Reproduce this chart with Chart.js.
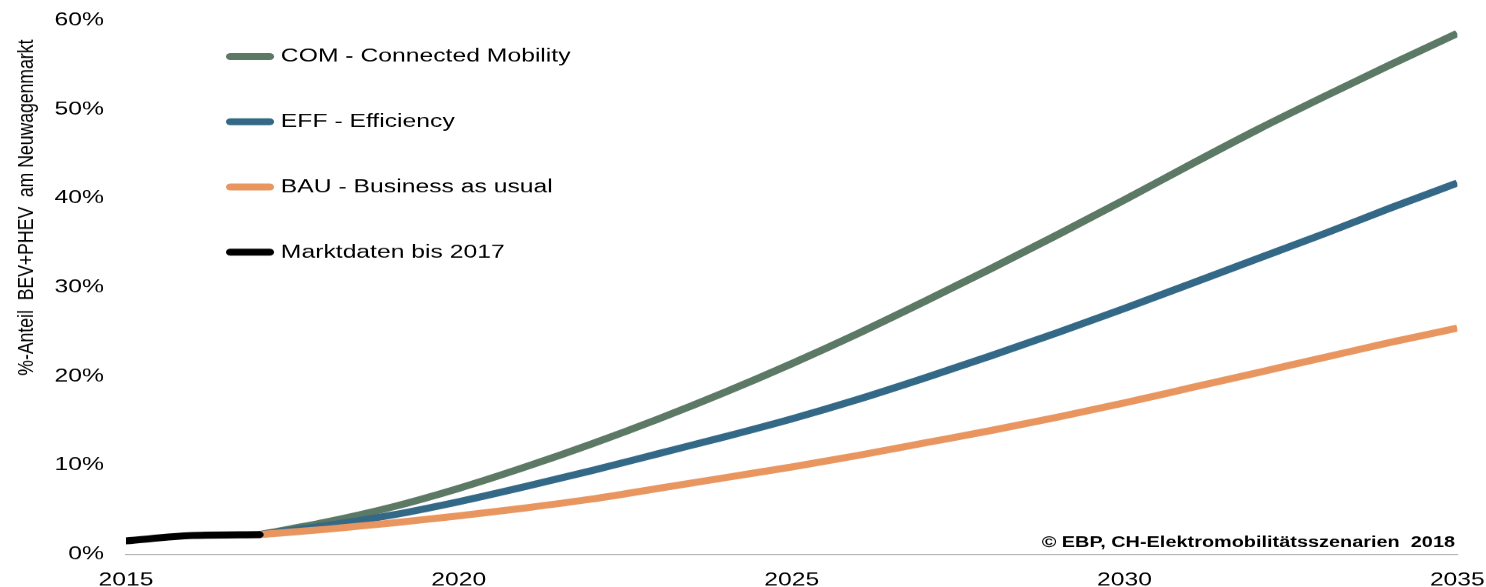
<!DOCTYPE html>
<html lang="de">
<head>
<meta charset="UTF-8">
<title>Elektromobilitätsszenarien</title>
<script src="https://cdn.jsdelivr.net/npm/chart.js"></script>
<style>
  html, body { margin: 0; padding: 0; background: #fff; overflow: hidden; }
</style>
</head>
<body>
<!-- drawn at 1143 wide and stretched to 1486 on screen (wide-format export look) -->
<canvas id="chart" width="1143" height="587" style="display:block;width:1486px;height:587px"></canvas>
<script>
// --- data -------------------------------------------------------------
const marketYears = [2015, 2016, 2017];
const marketShare = [1.5, 2.1, 2.2];

const scenarioYears = [2017, 2018, 2019, 2020, 2021, 2022, 2023, 2024, 2025, 2026,
                       2027, 2028, 2029, 2030, 2031, 2032, 2033, 2034, 2035];
const comShare = [2.2, 3.6, 5.3, 7.4, 9.8, 12.4, 15.2, 18.2, 21.4, 24.8,
                  28.4, 32.1, 35.9, 39.8, 43.8, 47.7, 51.4, 55.0, 58.5];
const effShare = [2.2, 3.2, 4.4, 5.9, 7.6, 9.4, 11.3, 13.2, 15.2, 17.4,
                  19.8, 22.3, 24.9, 27.6, 30.4, 33.2, 36.0, 38.9, 41.7];
const bauShare = [2.2, 2.8, 3.5, 4.3, 5.2, 6.2, 7.4, 8.6, 9.8, 11.1,
                  12.5, 13.9, 15.4, 17.0, 18.7, 20.4, 22.1, 23.8, 25.4];

const xTicks = [2015, 2020, 2025, 2030, 2035];
const yTicks = [0, 10, 20, 30, 40, 50, 60];

const seriesLabels = ['Marktdaten bis 2017', 'BAU - Business as usual', 'EFF - Efficiency', 'COM - Connected Mobility'];
const seriesColors = ['#000000', '#e8955f', '#336887', '#5b7964'];

const yTitle = '%-Anteil  BEV+PHEV  am Neuwagenmarkt';
const sourceNote = '© EBP, CH-Elektromobilitätsszenarien  2018';

// --- helpers ----------------------------------------------------------
const FONT = "'Liberation Sans', Arial, sans-serif";
const toPoints = (xs, ys) => xs.map((x, i) => ({ x: x, y: ys[i] }));

// legend, axis title and source line
const decorations = {
  id: 'decorations',
  afterDraw(chart) {
    const ctx = chart.ctx;
    ctx.save();

    // vertical legend, top entry = last dataset
    const entries = chart.data.datasets.slice().reverse();
    entries.forEach((ds, i) => {
      const y = 56.5 + i * 65.2;
      ctx.strokeStyle = ds.borderColor;
      ctx.lineWidth = 7;
      ctx.lineCap = 'round';
      ctx.beginPath();
      ctx.moveTo(177.3, y);
      ctx.lineTo(207.3, y);
      ctx.stroke();
      ctx.fillStyle = '#000';
      ctx.font = '19px ' + FONT;
      ctx.textAlign = 'left';
      ctx.textBaseline = 'middle';
      ctx.fillText(ds.label, 216, y);
    });

    // y axis title
    ctx.save();
    ctx.translate(25.4, 207.5);
    ctx.rotate(-Math.PI / 2);
    ctx.font = '17.6px ' + FONT;
    ctx.fillStyle = '#000';
    ctx.textAlign = 'center';
    ctx.textBaseline = 'alphabetic';
    ctx.fillText(yTitle, 0, 0);
    ctx.restore();

    // source note
    ctx.font = 'bold 15.3px ' + FONT;
    ctx.fillStyle = '#000';
    ctx.textAlign = 'right';
    ctx.textBaseline = 'alphabetic';
    ctx.fillText(sourceNote, 1119, 547);

    ctx.restore();
  }
};

const datasets = [
  { data: toPoints(marketYears, marketShare), borderCapStyle: 'round' },
  { data: toPoints(scenarioYears, bauShare) },
  { data: toPoints(scenarioYears, effShare) },
  { data: toPoints(scenarioYears, comShare) }
].map((ds, i) => Object.assign({
  label: seriesLabels[i],
  borderColor: seriesColors[i],
  backgroundColor: seriesColors[i],
  borderWidth: 7,
  borderCapStyle: 'butt',
  borderJoinStyle: 'round',
  pointRadius: 0,
  cubicInterpolationMode: 'monotone',
  fill: false,
  clip: 0
}, ds));

new Chart(document.getElementById('chart'), {
  type: 'line',
  data: { datasets: datasets },
  options: {
    responsive: false,
    devicePixelRatio: 1486 / 1143 + 0.0002,
    animation: false,
    events: [],
    layout: { padding: { left: 0, right: 22.2, top: 20, bottom: 0 } },
    plugins: {
      legend: { display: false },
      tooltip: { enabled: false }
    },
    scales: {
      x: {
        type: 'linear',
        min: 2015,
        max: 2035,
        afterBuildTicks: s => { s.ticks = xTicks.map(v => ({ value: v })); },
        afterFit: s => { s.height = 33; },
        // tickLength only offsets the labels, the grid itself is hidden
        grid: { display: false, drawTicks: true, tickLength: 15 },
        border: { display: true, color: '#a6a6a6', width: 1 },
        ticks: {
          color: '#000',
          padding: 0,
          maxRotation: 0,
          font: { family: FONT, size: 19 },
          callback: v => String(v)
        }
      },
      y: {
        min: 0,
        max: 60,
        afterBuildTicks: s => { s.ticks = yTicks.map(v => ({ value: v })); },
        afterFit: s => { s.width = 96.9; },
        grid: { display: false, drawTicks: true, tickLength: 17 },
        border: { display: false },
        ticks: {
          color: '#000',
          padding: 0,
          font: { family: FONT, size: 19 },
          callback: v => v + '%'
        }
      }
    }
  },
  plugins: [decorations]
});
</script>
</body>
</html>
